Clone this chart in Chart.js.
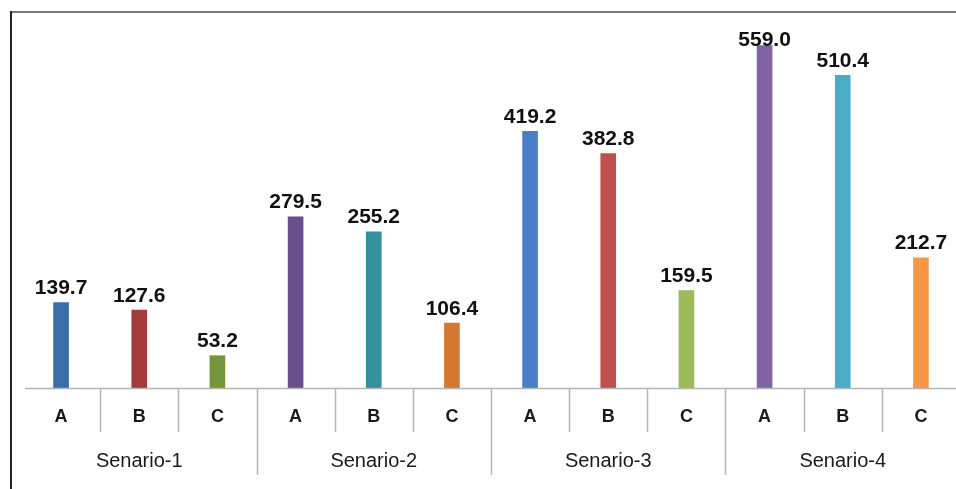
<!DOCTYPE html>
<html>
<head>
<meta charset="utf-8">
<script src="https://cdn.jsdelivr.net/npm/chart.js@4.4.1/dist/chart.umd.min.js"></script>
<style>
  html, body { margin: 0; padding: 0; background: #fff; overflow: hidden; }
  #wrap { width: 962px; height: 489px; position: relative; }
</style>
</head>
<body>
<div id="wrap"><canvas id="c"></canvas></div>
<script>
const categories = ['A','B','C','A','B','C','A','B','C','A','B','C'];
const groups = ['Senario-1','Senario-2','Senario-3','Senario-4'];
const values = [139.7, 127.6, 53.2, 279.5, 255.2, 106.4, 419.2, 382.8, 159.5, 559.0, 510.4, 212.7];
const barColors = ['#3b6ea8','#a23b3a','#76953b','#6a4e8d','#33909f','#d5782f','#4a7ec7','#c0504d','#9bbb59','#8064a2','#4bacc6','#f79646'];
const valueLabels = ['139.7','127.6','53.2','279.5','255.2','106.4','419.2','382.8','159.5','559.0','510.4','212.7'];

const frame = {
  id: 'frame',
  beforeDraw(chart) {
    const ctx = chart.ctx;
    ctx.save();
    ctx.fillStyle = '#fff';
    ctx.fillRect(0, 0, chart.width, chart.height);
    ctx.strokeStyle = '#7a7a7a';
    ctx.lineWidth = 2;
    ctx.beginPath(); ctx.moveTo(10, 12); ctx.lineTo(chart.width, 12); ctx.stroke();
    ctx.strokeStyle = '#222';
    ctx.beginPath(); ctx.moveTo(11, 11); ctx.lineTo(11, chart.height); ctx.stroke();
    ctx.restore();
  }
};

const axisPlugin = {
  id: 'axisPlugin',
  afterDatasetsDraw(chart) {
    const ctx = chart.ctx;
    const xs = chart.scales.x;
    const area = chart.chartArea;
    const n = categories.length;
    const w = (xs.right - xs.left) / n;
    const y0 = area.bottom;
    ctx.save();
    // axis line
    ctx.strokeStyle = '#b5b5b5';
    ctx.lineWidth = 1.5;
    ctx.beginPath(); ctx.moveTo(xs.left + 3, y0 + 0.5); ctx.lineTo(xs.right, y0 + 0.5); ctx.stroke();
    // separators
    for (let i = 1; i < n; i++) {
      const x = Math.round(xs.getPixelForValue(i) - w / 2) + 0.5;
      const long = (i % 3 === 0);
      ctx.strokeStyle = '#b5b5b5';
      ctx.lineWidth = 1.5;
      ctx.beginPath(); ctx.moveTo(x, y0); ctx.lineTo(x, y0 + (long ? 87 : 44)); ctx.stroke();
    }
    // category labels
    ctx.fillStyle = '#1a1a1a';
    ctx.textAlign = 'center';
    ctx.textBaseline = 'middle';
    ctx.font = 'bold 18px "Liberation Sans", Arial, sans-serif';
    categories.forEach((c, i) => {
      ctx.fillText(c, xs.getPixelForValue(i), y0 + 29);
    });
    // group labels
    ctx.font = '20px "Liberation Sans", Arial, sans-serif';
    groups.forEach((g, gi) => {
      const cx = xs.getPixelForValue(gi * 3 + 1);
      ctx.fillText(g, cx, y0 + 73);
    });
    // value labels
    const meta = chart.getDatasetMeta(0);
    ctx.font = 'bold 21px "Liberation Sans", Arial, sans-serif';
    ctx.fillStyle = '#111';
    meta.data.forEach((bar, i) => {
      const cy = Math.max(bar.y - 14, 40);
      ctx.fillText(valueLabels[i], bar.x, cy);
    });
    ctx.restore();
  }
};

new Chart(document.getElementById('c'), {
  type: 'bar',
  data: {
    labels: categories,
    datasets: [{
      data: values,
      backgroundColor: barColors,
      borderWidth: 0,
      barPercentage: 0.2,
      categoryPercentage: 1.0
    }]
  },
  options: {
    responsive: true,
    maintainAspectRatio: false,
    animation: false,
    layout: { padding: { left: 22, right: 2, top: 20, bottom: 101 } },
    plugins: { legend: { display: false }, tooltip: { enabled: false } },
    scales: {
      x: { display: false, offset: true },
      y: { display: false, min: 0, max: 600 }
    }
  },
  plugins: [frame, axisPlugin]
});
</script>
</body>
</html>
